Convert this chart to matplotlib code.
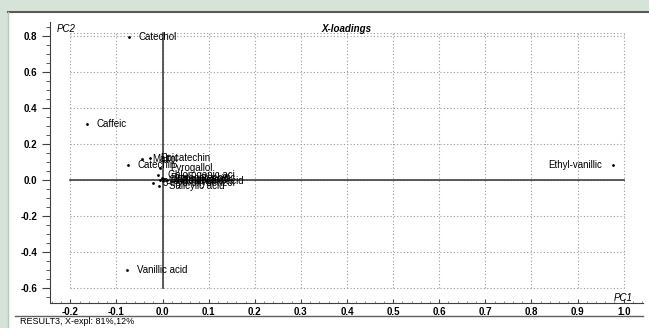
import matplotlib
matplotlib.use("Agg")
import matplotlib.pyplot as plt
from matplotlib.lines import Line2D
from matplotlib.patches import Rectangle
from matplotlib.ticker import MultipleLocator

plt.rcParams['font.family'] = ['Liberation Sans', 'DejaVu Sans']

# loadings (PC1, PC2)
names = ["Catechol", "Caffeic", "Catechin", "Vanillic acid", "Maltol",
         "Epicatechin", "Pyrogallol", "Chlorogenic aci", "Protocatechuic ",
         "Syringic acid", "Ferulic acid", "p-Coumaric acid", "Gallic acid",
         "3-Hydroxybenzoi", "Salicylic acid", "Ethyl-vanillic"]
pc1 = [-0.073, -0.164, -0.075, -0.077, -0.044, -0.027, -0.005, -0.010,
       -0.002, 0.004, 0.010, 0.002, -0.006, -0.020, -0.008, 0.977]
pc2 = [0.790, 0.310, 0.080, -0.500, 0.114, 0.120, 0.064, 0.025,
       0.010, 0.002, -0.005, -0.010, 0.000, -0.020, -0.036, 0.080]
left_side = ["Ethyl-vanillic"]

xticks = [-0.2, -0.1, 0.0, 0.1, 0.2, 0.3, 0.4, 0.5, 0.6, 0.7, 0.8, 0.9, 1.0]
yticks = [-0.6, -0.4, -0.2, 0.0, 0.2, 0.4, 0.6, 0.8]
footer = "RESULT3, X-expl: 81%,12%"

W, H = 649, 328
fig = plt.figure(figsize=(W / 100, H / 100), dpi=100)
fig.patch.set_facecolor("#d5e3d8")

# white panel with a dark border on top/left
fig.patches.append(Rectangle((8 / W, 0), 1, 1 - 12 / H, transform=fig.transFigure,
                             facecolor="white", edgecolor="none", zorder=-2))
fig.lines.append(Line2D([8 / W, 1], [1 - 12 / H, 1 - 12 / H], transform=fig.transFigure,
                        color="#5a5a5a", lw=1.5))
fig.lines.append(Line2D([8 / W, 8 / W], [0, 1 - 12 / H], transform=fig.transFigure,
                        color="#b8c8bc", lw=1))
# line under the x tick labels
fig.lines.append(Line2D([15 / W, 643 / W], [1 - 316 / H, 1 - 316 / H], transform=fig.transFigure,
                        color="#606060", lw=1))

ax = fig.add_axes([50 / W, 1 - 303 / H, (643 - 50) / W, (303 - 22) / H])
ax.set_zorder(1)
ax.set_facecolor("none")
ax.set_xlim(-0.244, 1.042)
ax.set_ylim(-0.686, 0.875)
ax.spines['top'].set_visible(False)
ax.spines['right'].set_visible(False)
ax.spines['left'].set_color("#404040")
ax.spines['bottom'].set_color("#404040")

# dotted grid inside [-0.2, 1.0] x [-0.6, 0.814]
gtop = 0.814
for gx in xticks:
    ax.plot([gx, gx], [-0.6, gtop], ls=(0, (1, 2)), color="#9a9a9a", lw=0.8, zorder=1)
for gy in yticks + [gtop]:
    ax.plot([-0.2, 1.0], [gy, gy], ls=(0, (1, 2)), color="#9a9a9a", lw=0.8, zorder=1)

# axis cross
ax.plot([0, 0], [-0.6, gtop], color="#404040", lw=1.2, zorder=2)
ax.plot([-0.2, 1.0], [0, 0], color="#404040", lw=1.2, zorder=2)

ax.set_xticks(xticks)
ax.set_xticklabels(["%.1f" % v for v in xticks])
ax.set_yticks(yticks)
ax.set_yticklabels(["%.1f" % v for v in yticks])
ax.xaxis.set_minor_locator(MultipleLocator(0.02))
ax.yaxis.set_minor_locator(MultipleLocator(0.05))
ax.tick_params(axis='y', which='major', direction='out', length=6, width=0.8,
               labelsize=7, pad=3, colors="#404040", labelcolor="black")
ax.tick_params(axis='y', which='minor', direction='out', length=3, width=0.6, colors="#404040")
ax.tick_params(axis='x', which='major', direction='in', length=3, width=0.8,
               labelsize=7, pad=3, colors="#404040", labelcolor="black")
ax.tick_params(axis='x', which='minor', direction='in', length=1.5, width=0.5, colors="#606060")
for lab in ax.get_xticklabels() + ax.get_yticklabels():
    lab.set_fontweight("bold")

ax.plot(pc1, pc2, ls="none", marker=".", color="black", markersize=2, zorder=3)
for n, x, y in zip(names, pc1, pc2):
    if n in left_side:
        ax.annotate(n, (x, y), xytext=(-8, 0), textcoords="offset points",
                    ha="right", va="center", fontsize=7, zorder=4)
    else:
        ax.annotate(n, (x, y), xytext=(7, 0), textcoords="offset points",
                    ha="left", va="center", fontsize=7, zorder=4)

fig.text(57 / W, 1 - 29 / H, "PC2", fontsize=7, style="italic", ha="left", va="center")
fig.text(346 / W, 1 - 29 / H, "X-loadings", fontsize=7, style="italic", fontweight="bold",
         ha="center", va="center")
fig.text(633 / W, 1 - 298 / H, "PC1", fontsize=7, style="italic", ha="right", va="center")
fig.text(20 / W, 1 - 322 / H, footer, fontsize=6.5, ha="left", va="center")

fig.savefig("out.png", dpi=100, facecolor=fig.get_facecolor())
